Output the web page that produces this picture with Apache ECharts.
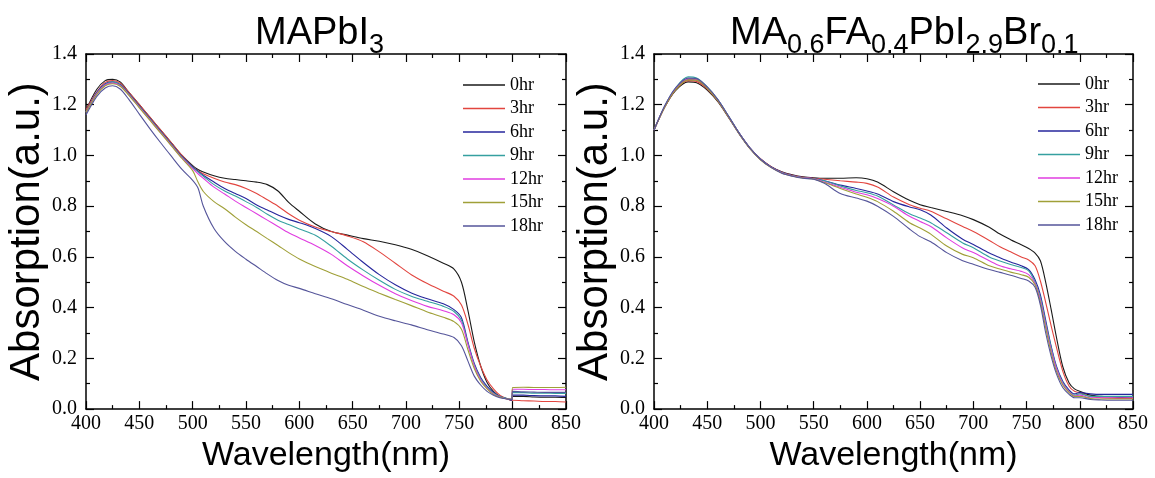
<!DOCTYPE html>
<html>
<head>
<meta charset="utf-8">
<script src="https://cdn.jsdelivr.net/npm/echarts@6/dist/echarts.min.js"></script>
<style>
html, body { margin: 0; padding: 0; background: #fff; }
#chart { width: 1155px; height: 478px; }
</style>
</head>
<body>
<div id="chart"></div>
<script>
// legend names + line colours (same in both panels)
const hours = ['0hr', '3hr', '6hr', '9hr', '12hr', '15hr', '18hr']
const colors = ['#1a1a1a', '#e2453f', '#26269c', '#35a0a0', '#e03ce0', '#a0a038', '#55559a']

const xTicks = [400, 850, 50]
const yTicks = [0, 1.4, 0.2]

// ---- left panel: MAPbI3 ----
const wlLeft = [400, 410, 418, 425, 432, 440, 450, 460, 470, 480, 490, 500, 505, 510, 520, 530, 540, 550, 560, 570,
  580, 590, 600, 615, 630, 645, 660, 675, 690, 705, 720, 735, 745, 752, 758, 764, 770, 776, 782, 788,
  795, 799, 800, 810, 820, 830, 840, 850]
const left0hr = [1.18, 1.26, 1.295, 1.30, 1.29, 1.25, 1.20, 1.15, 1.10, 1.05, 1.00, 0.96, 0.945, 0.935, 0.92, 0.91, 0.905, 0.90, 0.895, 0.885,
  0.86, 0.815, 0.78, 0.73, 0.70, 0.686, 0.672, 0.662, 0.648, 0.63, 0.605, 0.575, 0.552, 0.50, 0.39, 0.265, 0.17, 0.105, 0.07, 0.05,
  0.04, 0.035, 0.05, 0.05, 0.048, 0.047, 0.047, 0.046]
const left3hr = [1.18, 1.25, 1.288, 1.295, 1.285, 1.25, 1.20, 1.15, 1.10, 1.05, 1.00, 0.955, 0.94, 0.928, 0.91, 0.895, 0.885, 0.87, 0.85, 0.825,
  0.80, 0.77, 0.745, 0.718, 0.70, 0.683, 0.66, 0.62, 0.575, 0.53, 0.495, 0.465, 0.445, 0.41, 0.335, 0.24, 0.17, 0.115, 0.08, 0.055,
  0.04, 0.035, 0.035, 0.033, 0.032, 0.03, 0.03, 0.028]
const left6hr = [1.17, 1.248, 1.283, 1.29, 1.28, 1.245, 1.195, 1.145, 1.095, 1.045, 0.995, 0.955, 0.938, 0.922, 0.895, 0.87, 0.85, 0.83, 0.805, 0.785,
  0.765, 0.748, 0.735, 0.712, 0.68, 0.63, 0.578, 0.53, 0.49, 0.458, 0.435, 0.415, 0.392, 0.36, 0.265, 0.18, 0.125, 0.09, 0.066, 0.05,
  0.04, 0.035, 0.055, 0.055, 0.053, 0.052, 0.052, 0.05]
const left9hr = [1.17, 1.245, 1.28, 1.29, 1.278, 1.243, 1.193, 1.143, 1.093, 1.043, 0.993, 0.952, 0.935, 0.918, 0.885, 0.86, 0.84, 0.818, 0.795, 0.768,
  0.745, 0.728, 0.71, 0.685, 0.642, 0.592, 0.548, 0.508, 0.472, 0.445, 0.425, 0.405, 0.385, 0.35, 0.26, 0.175, 0.12, 0.085, 0.063, 0.05,
  0.042, 0.04, 0.065, 0.065, 0.063, 0.063, 0.062, 0.062]
const left12hr = [1.17, 1.243, 1.278, 1.285, 1.275, 1.24, 1.19, 1.14, 1.09, 1.04, 0.99, 0.948, 0.928, 0.91, 0.875, 0.848, 0.82, 0.795, 0.77, 0.745,
  0.72, 0.695, 0.675, 0.645, 0.61, 0.565, 0.525, 0.488, 0.455, 0.428, 0.405, 0.388, 0.372, 0.34, 0.255, 0.17, 0.115, 0.082, 0.06, 0.048,
  0.04, 0.04, 0.078, 0.078, 0.077, 0.077, 0.076, 0.076]
const left15hr = [1.17, 1.24, 1.275, 1.283, 1.273, 1.238, 1.188, 1.138, 1.088, 1.038, 0.988, 0.94, 0.895, 0.858, 0.818, 0.79, 0.757, 0.727, 0.70, 0.672,
  0.645, 0.617, 0.592, 0.562, 0.536, 0.512, 0.483, 0.457, 0.432, 0.408, 0.383, 0.362, 0.345, 0.315, 0.235, 0.16, 0.11, 0.08, 0.058, 0.047,
  0.04, 0.04, 0.085, 0.086, 0.085, 0.085, 0.085, 0.086]
const left18hr = [1.16, 1.232, 1.266, 1.275, 1.262, 1.222, 1.163, 1.105, 1.05, 0.997, 0.945, 0.902, 0.872, 0.80, 0.712, 0.66, 0.622, 0.591, 0.562, 0.533,
  0.507, 0.488, 0.476, 0.455, 0.435, 0.412, 0.39, 0.366, 0.348, 0.332, 0.313, 0.296, 0.282, 0.25, 0.19, 0.13, 0.095, 0.07, 0.055, 0.045,
  0.04, 0.038, 0.07, 0.068, 0.067, 0.066, 0.066, 0.066]

// ---- right panel: MA0.6FA0.4PbI2.9Br0.1 ----
const wlRight = [400, 410, 420, 432, 440, 450, 460, 470, 480, 490, 500, 510, 520, 530, 540, 550, 560, 575, 590, 600,
  610, 625, 640, 650, 660, 675, 690, 700, 715, 725, 735, 745, 752, 758, 763, 768, 773, 778, 784, 790,
  795, 800, 810, 820, 830, 840, 850]
const right0hr = [1.10, 1.19, 1.255, 1.29, 1.287, 1.258, 1.212, 1.15, 1.085, 1.028, 0.985, 0.956, 0.936, 0.924, 0.916, 0.912, 0.91, 0.91, 0.912, 0.908,
  0.895, 0.857, 0.823, 0.806, 0.795, 0.779, 0.762, 0.747, 0.717, 0.69, 0.668, 0.648, 0.633, 0.615, 0.585, 0.5, 0.395, 0.285, 0.168, 0.103,
  0.08, 0.07, 0.055, 0.05, 0.048, 0.046, 0.045]
const right3hr = [1.10, 1.19, 1.258, 1.295, 1.292, 1.262, 1.215, 1.152, 1.087, 1.03, 0.987, 0.956, 0.935, 0.922, 0.914, 0.91, 0.906, 0.90, 0.895, 0.89,
  0.876, 0.836, 0.806, 0.792, 0.78, 0.75, 0.72, 0.70, 0.665, 0.64, 0.62, 0.60, 0.588, 0.565, 0.505, 0.42, 0.33, 0.245, 0.15, 0.09,
  0.07, 0.065, 0.05, 0.045, 0.043, 0.042, 0.042]
const right6hr = [1.10, 1.192, 1.26, 1.30, 1.298, 1.266, 1.218, 1.154, 1.088, 1.03, 0.986, 0.955, 0.934, 0.921, 0.913, 0.909, 0.90, 0.883, 0.87, 0.86,
  0.848, 0.818, 0.797, 0.786, 0.765, 0.714, 0.67, 0.649, 0.615, 0.597, 0.58, 0.565, 0.55, 0.51, 0.45, 0.35, 0.25, 0.17, 0.11, 0.075,
  0.06, 0.065, 0.06, 0.058, 0.058, 0.058, 0.058]
const right9hr = [1.10, 1.195, 1.265, 1.31, 1.305, 1.27, 1.22, 1.155, 1.088, 1.03, 0.985, 0.954, 0.933, 0.92, 0.912, 0.908, 0.90, 0.88, 0.862, 0.853,
  0.84, 0.805, 0.77, 0.753, 0.735, 0.695, 0.655, 0.636, 0.60, 0.584, 0.57, 0.558, 0.545, 0.50, 0.44, 0.34, 0.245, 0.165, 0.105, 0.07,
  0.055, 0.06, 0.05, 0.05, 0.05, 0.05, 0.05]
const right12hr = [1.10, 1.193, 1.262, 1.302, 1.30, 1.267, 1.218, 1.153, 1.087, 1.029, 0.984, 0.953, 0.932, 0.92, 0.912, 0.908, 0.895, 0.875, 0.855, 0.845,
  0.83, 0.80, 0.76, 0.74, 0.72, 0.675, 0.635, 0.617, 0.585, 0.565, 0.553, 0.543, 0.53, 0.495, 0.43, 0.33, 0.235, 0.16, 0.10, 0.068,
  0.052, 0.055, 0.045, 0.045, 0.045, 0.045, 0.045]
const right15hr = [1.10, 1.19, 1.258, 1.298, 1.297, 1.265, 1.216, 1.152, 1.086, 1.028, 0.983, 0.952, 0.931, 0.919, 0.911, 0.907, 0.893, 0.87, 0.848, 0.835,
  0.818, 0.78, 0.735, 0.714, 0.69, 0.643, 0.61, 0.597, 0.565, 0.552, 0.54, 0.53, 0.52, 0.49, 0.42, 0.32, 0.225, 0.15, 0.095, 0.065,
  0.05, 0.05, 0.042, 0.04, 0.04, 0.04, 0.04]
const right18hr = [1.10, 1.195, 1.265, 1.305, 1.303, 1.27, 1.22, 1.155, 1.088, 1.03, 0.985, 0.953, 0.93, 0.918, 0.91, 0.906, 0.89, 0.85, 0.832, 0.82,
  0.80, 0.76, 0.71, 0.68, 0.66, 0.617, 0.585, 0.571, 0.55, 0.539, 0.528, 0.515, 0.505, 0.48, 0.41, 0.30, 0.21, 0.14, 0.085, 0.058,
  0.045, 0.045, 0.038, 0.036, 0.035, 0.035, 0.035]

const leftSets = [left0hr, left3hr, left6hr, left9hr, left12hr, left15hr, left18hr]
const rightSets = [right0hr, right3hr, right6hr, right9hr, right12hr, right15hr, right18hr]

const serif = '"Liberation Serif", "Times New Roman", serif'
const sans = '"Liberation Sans", Arial, sans-serif'

function xAxisFor(gridIndex, position) {
  const main = position === 'bottom'
  return {
    type: 'value',
    gridIndex: gridIndex,
    position: position,
    min: xTicks[0],
    max: xTicks[1],
    interval: xTicks[2],
    name: main ? 'Wavelength(nm)' : '',
    nameLocation: 'middle',
    nameGap: 22,
    nameTextStyle: { fontFamily: sans, fontSize: 34, color: '#000' },
    axisLine: { show: true, onZero: false, lineStyle: { color: '#000', width: 1.5 } },
    axisTick: { show: true, inside: true, length: 8, lineStyle: { color: '#000', width: 1.2 } },
    minorTick: { show: true, splitNumber: 2, length: 4, lineStyle: { color: '#000', width: 1.2 } },
    axisLabel: { show: main, fontFamily: serif, fontSize: 20, color: '#000', margin: 5, showMinLabel: true, showMaxLabel: true },
    splitLine: { show: false }
  }
}

function yAxisFor(gridIndex, position) {
  const main = position === 'left'
  return {
    type: 'value',
    gridIndex: gridIndex,
    position: position,
    min: yTicks[0],
    max: yTicks[1],
    interval: yTicks[2],
    name: main ? 'Absorption(a.u.)' : '',
    nameLocation: 'middle',
    nameGap: 36,
    nameTextStyle: { fontFamily: sans, fontSize: 42, color: '#000' },
    axisLine: { show: true, onZero: false, lineStyle: { color: '#000', width: 1.5 } },
    axisTick: { show: true, inside: true, length: 8, lineStyle: { color: '#000', width: 1.2 } },
    minorTick: { show: true, splitNumber: 2, length: 4, lineStyle: { color: '#000', width: 1.2 } },
    axisLabel: {
      show: main, fontFamily: serif, fontSize: 20, color: '#000', margin: 9,
      showMinLabel: true, showMaxLabel: true,
      formatter: function(v) { return v.toFixed(1) }
    },
    splitLine: { show: false }
  }
}

function makeSeries(wl, sets, axisIndex) {
  return sets.map(function(vals, i) {
    return {
      name: hours[i],
      type: 'line',
      xAxisIndex: axisIndex,
      yAxisIndex: axisIndex,
      data: wl.map(function(w, k) { return [w, vals[k]] }),
      symbol: 'none',
      smooth: 0.3,
      lineStyle: { width: 1.1, color: colors[i] },
      itemStyle: { color: colors[i] }
    }
  })
}

function legendAt(left, top) {
  return {
    data: hours,
    orient: 'vertical',
    left: left,
    top: top,
    padding: 0,
    icon: 'rect',
    itemWidth: 42,
    itemHeight: 1.3,
    itemGap: 5.5,
    selectedMode: false,
    textStyle: { fontFamily: serif, fontSize: 18, color: '#000' }
  }
}

const titleRich = {
  b: { fontFamily: sans, fontWeight: 'normal', fontSize: 38, lineHeight: 50, color: '#000' },
  s: { fontFamily: sans, fontWeight: 'normal', fontSize: 27, lineHeight: 27, color: '#000', padding: [23, 0, 0, 0] }
}

const option = {
  animation: false,
  backgroundColor: '#fff',
  title: [
    { text: '{b|MAPbI}{s|3}', left: 255, top: 9, padding: 0, textStyle: { fontWeight: 'normal', rich: titleRich } },
    { text: '{b|MA}{s|0.6}{b|FA}{s|0.4}{b|PbI}{s|2.9}{b|Br}{s|0.1}', left: 730, top: 9, padding: 0, textStyle: { fontWeight: 'normal', rich: titleRich } }
  ],
  legend: [legendAt(463, 76), legendAt(1038, 75)],
  grid: [
    { left: 86, top: 54, width: 480, height: 359 },
    { left: 654, top: 54, width: 479, height: 359 }
  ],
  xAxis: [xAxisFor(0, 'bottom'), xAxisFor(0, 'top'), xAxisFor(1, 'bottom'), xAxisFor(1, 'top')],
  yAxis: [yAxisFor(0, 'left'), yAxisFor(0, 'right'), yAxisFor(1, 'left'), yAxisFor(1, 'right')],
  series: makeSeries(wlLeft, leftSets, 0).concat(makeSeries(wlRight, rightSets, 2))
}

const chart = echarts.init(document.getElementById('chart'))
chart.setOption(option)
</script>
</body>
</html>
